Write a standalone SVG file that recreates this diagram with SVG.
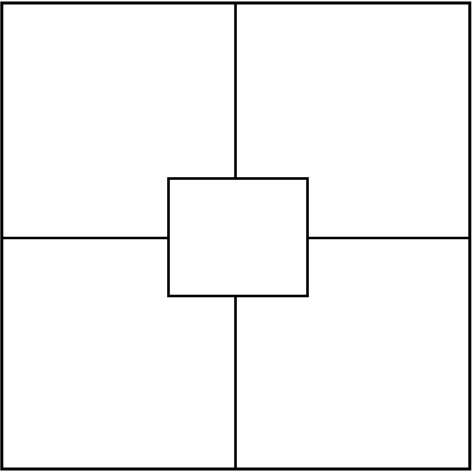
<svg xmlns="http://www.w3.org/2000/svg" width="474" height="474" viewBox="0 0 474 474">
<style>
.s{fill:#fff;stroke:#000;stroke-width:2.6}
.o{fill:#fff;stroke:#000;stroke-width:3}
.l{stroke:#000;stroke-width:2.6;fill:none}
</style>
<rect width="474" height="474" fill="#fff"/>
<g id="outer"><rect class="o" x="1.8" y="3" width="468" height="466"/></g>
<g id="connectors">
<line class="l" x1="235.5" y1="3" x2="235.5" y2="178.5"/>
<line class="l" x1="235.5" y1="296" x2="235.5" y2="469"/>
<line class="l" x1="1.8" y1="238" x2="168.5" y2="238"/>
<line class="l" x1="307.5" y1="238" x2="469.8" y2="238"/>
</g>
<g id="center"><rect class="s" x="168.5" y="178.5" width="139" height="117.5"/></g>
</svg>
